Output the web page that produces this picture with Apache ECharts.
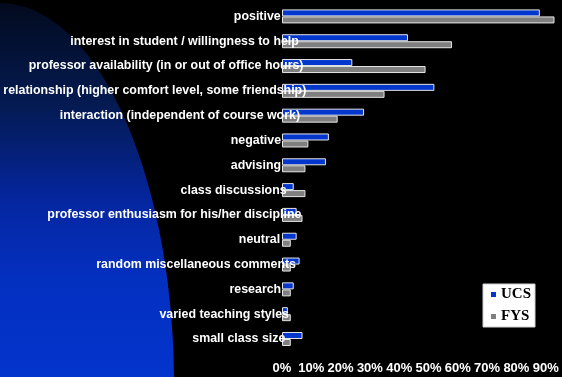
<!DOCTYPE html>
<html>
<head>
<meta charset="utf-8">
<script src="https://cdn.jsdelivr.net/npm/echarts@6/dist/echarts.min.js"></script>
<style>
  html, body { margin: 0; padding: 0; background: #000; }
  #chart { width: 562px; height: 377px; }
</style>
</head>
<body>
<div id="chart"></div>
<script>
// Survey comment categories, top to bottom
const categories = [
  'positive',
  'interest in student / willingness to help',
  'professor availability (in or out of office hours)',
  'relationship (higher comfort level, some friendship)',
  'interaction (independent of course work)',
  'negative',
  'advising',
  'class discussions',
  'professor enthusiasm for his/her discipline',
  'neutral',
  'random miscellaneous comments',
  'research',
  'varied teaching styles',
  'small class size'
];

// Share of responses (%) per group
const ucsValues = [88, 43, 24, 52, 28, 16, 15, 4, 5, 5, 6, 4, 2, 7];
const fysValues = [93, 58, 49, 35, 19, 9, 8, 8, 7, 3, 3, 3, 3, 3];

const seriesNames = ['UCS', 'FYS'];
const xTicks = [0, 10, 20, 30, 40, 50, 60, 70, 80, 90];

const labelSize = 12.4;
const labelFamily = '"Liberation Sans", Arial, sans-serif';

// Long category labels spill a little over the bar area; measure each one
// so its right edge drifts right in proportion to its width.
const measureCtx = document.createElement('canvas').getContext('2d');
measureCtx.font = 'bold ' + labelSize + 'px ' + labelFamily;
const labelRich = {};
categories.forEach((c, i) => {
  const w = measureCtx.measureText(c).width;
  labelRich['c' + i] = {
    color: '#ffffff',
    fontWeight: 'bold',
    fontSize: labelSize,
    fontFamily: labelFamily,
    padding: [0, Math.max(0, 36 - 0.1 * w), 0, 0]
  };
});

const chart = echarts.init(document.getElementById('chart'), null, { renderer: 'canvas' });

chart.setOption({
  backgroundColor: '#000000',
  animation: false,
  graphic: [{
    type: 'ellipse',
    z: -10,
    silent: true,
    shape: { cx: 0, cy: 385, rx: 174, ry: 382 },
    style: {
      fill: {
        type: 'linear', x: 0, y: 0, x2: 0, y2: 1,
        colorStops: [
          { offset: 0, color: '#020a1e' },
          { offset: 0.13, color: '#041a50' },
          { offset: 0.26, color: '#0526a0' },
          { offset: 0.36, color: '#0430c0' },
          { offset: 0.49, color: '#0334cc' },
          { offset: 1, color: '#0334cc' }
        ]
      }
    }
  }],
  // the 100% end of the axis sits just past the right edge of the page
  grid: {
    left: 282, width: 293, top: 4, bottom: 25.6,
    containLabel: false,
    outerBoundsMode: 'none'
  },
  legend: {
    data: seriesNames,
    orient: 'vertical',
    left: 483,
    top: 284,
    backgroundColor: '#ffffff',
    borderColor: '#d0d0d0',
    borderWidth: 1,
    padding: [3, 4, 3, 8],
    itemGap: 7,
    itemWidth: 5,
    itemHeight: 5,
    icon: 'rect',
    itemStyle: { borderWidth: 0 },
    textStyle: {
      color: '#000000',
      fontFamily: '"Liberation Serif", "Times New Roman", serif',
      fontWeight: 'bold',
      fontSize: 15
    }
  },
  xAxis: {
    type: 'value',
    min: 0,
    max: 100,
    interval: 10,
    axisLine: { show: false },
    axisTick: { show: false },
    splitLine: { show: false },
    axisLabel: {
      showMaxLabel: false,
      margin: 11,
      color: '#ffffff',
      fontWeight: 'bold',
      fontSize: 13,
      fontFamily: labelFamily,
      formatter: v => (xTicks.indexOf(v) >= 0 ? v + '%' : '')
    }
  },
  yAxis: {
    type: 'category',
    data: categories,
    inverse: true,
    z: 10,
    axisLine: { show: false },
    axisTick: { show: false },
    splitLine: { show: false },
    axisLabel: {
      interval: 0,
      margin: -30,
      align: 'right',
      formatter: (v, i) => '{c' + i + '|' + v + '}',
      rich: labelRich
    }
  },
  series: [
    {
      name: seriesNames[0],
      type: 'bar',
      data: ucsValues,
      barWidth: 7,
      barGap: '0%',
      z: 1,
      itemStyle: { color: '#0336cc', borderColor: '#e6e6e6', borderWidth: 1 }
    },
    {
      name: seriesNames[1],
      type: 'bar',
      data: fysValues,
      barWidth: 7,
      barGap: '0%',
      z: 1,
      itemStyle: { color: '#7f7f7f', borderColor: '#e6e6e6', borderWidth: 1 }
    }
  ]
});
</script>
</body>
</html>
